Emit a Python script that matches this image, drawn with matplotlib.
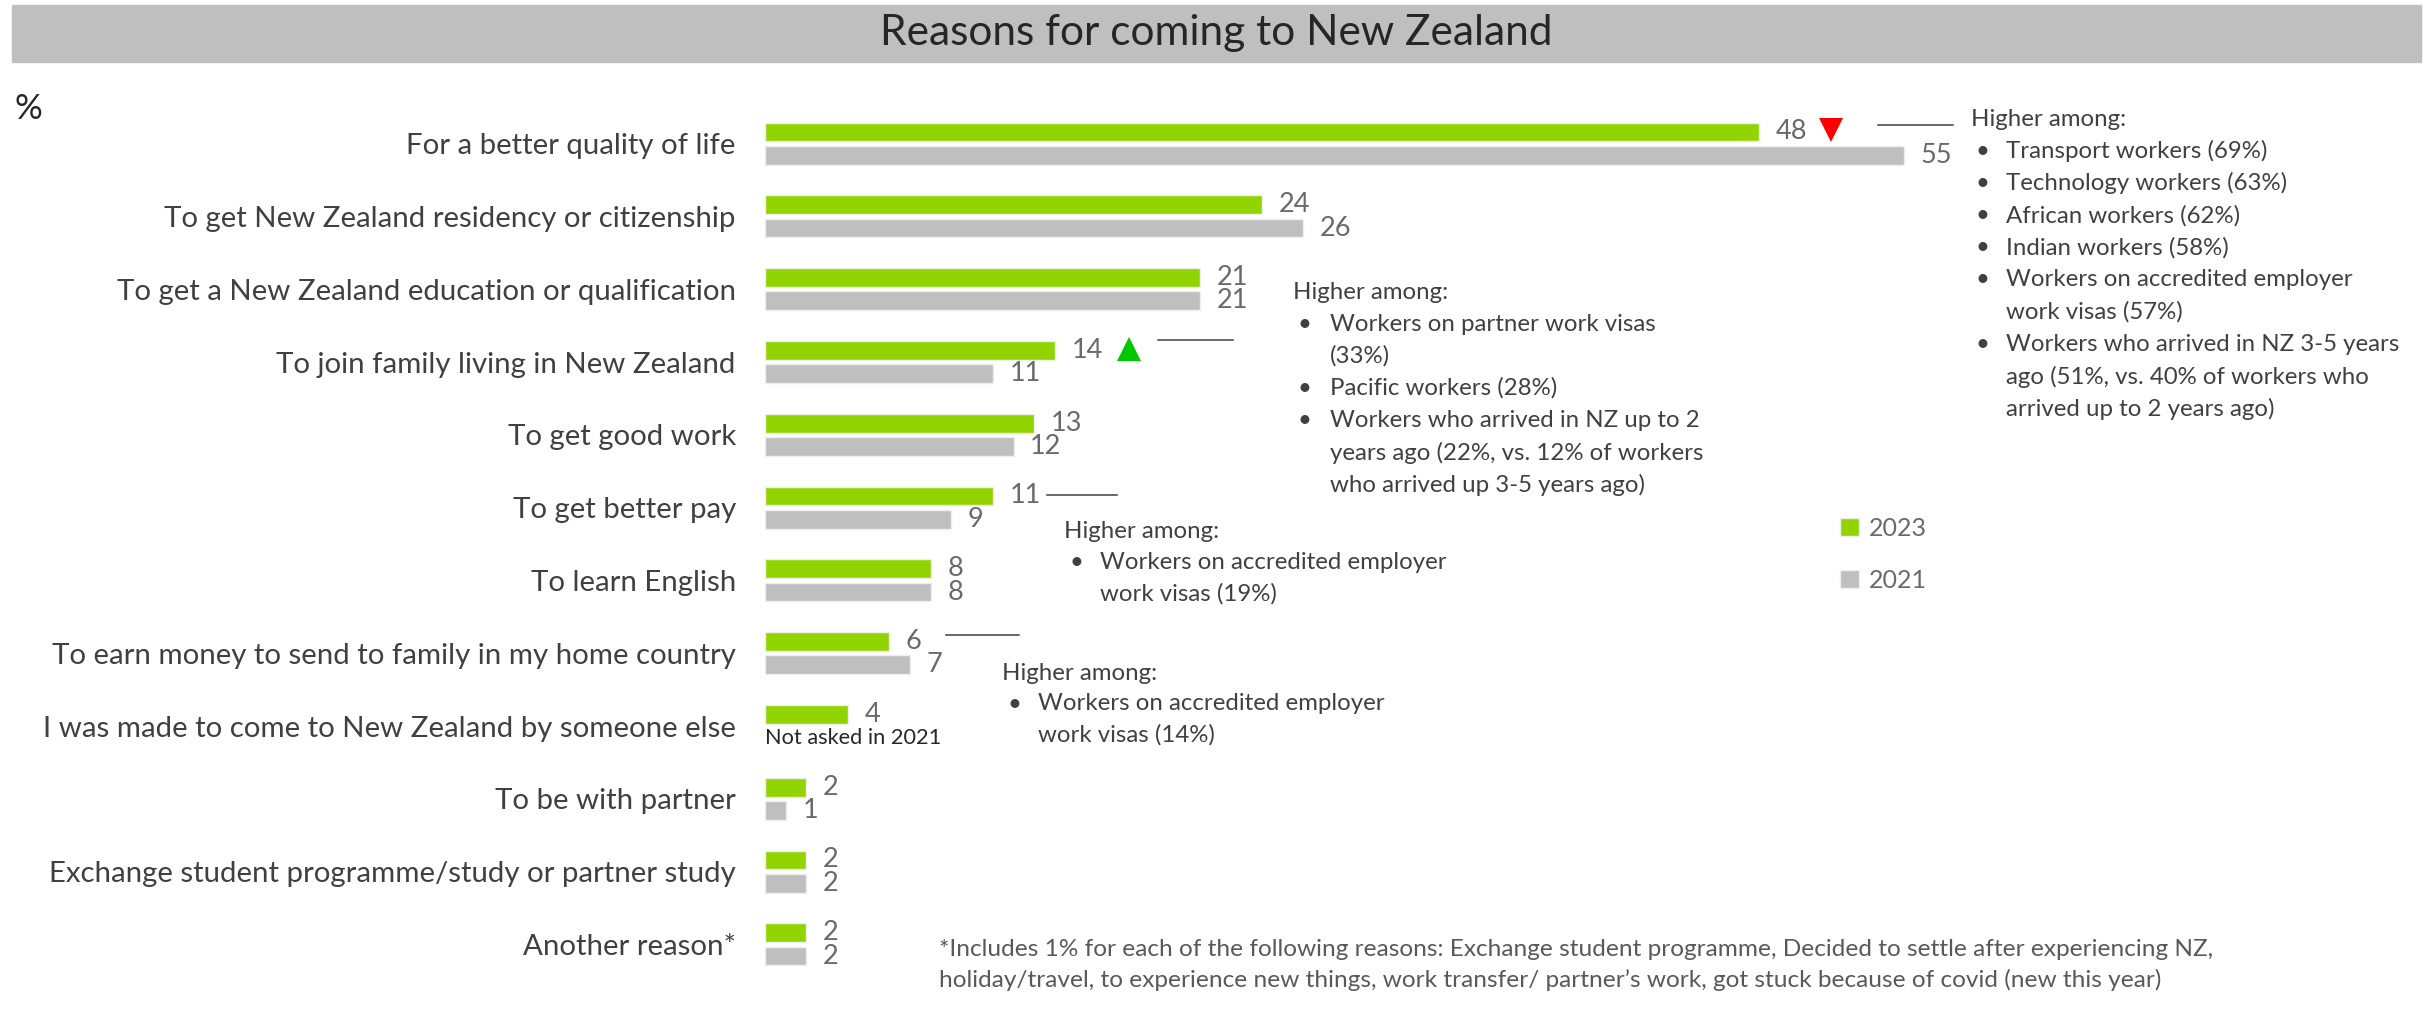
import numpy as np
import matplotlib.pyplot as plt
from matplotlib.patches import Rectangle
from matplotlib.lines import Line2D

plt.rcParams['font.family'] = ['Lato', 'DejaVu Sans']

# --- data ---
reasons = [
    "For a better quality of life",
    "To get New Zealand residency or citizenship",
    "To get a New Zealand education or qualification",
    "To join family living in New Zealand",
    "To get good work",
    "To get better pay",
    "To learn English",
    "To earn money to send to family in my home country",
    "I was made to come to New Zealand by someone else",
    "To be with partner",
    "Exchange student programme/study or partner study",
    "Another reason*",
]
pct_2023 = [48, 24, 21, 14, 13, 11, 8, 6, 4, 2, 2, 2]
pct_2021 = [55, 26, 21, 11, 12, 9, 8, 7, np.nan, 1, 2, 2]
years = ["2023", "2021"]
sig_down = [0]   # significantly lower than 2021
sig_up = [3]     # significantly higher than 2021

note_quality = ["Higher among:",
                "•Transport workers (69%)",
                "•Technology workers (63%)",
                "•African workers (62%)",
                "•Indian workers (58%)",
                "•Workers on accredited employer",
                "work visas (57%)",
                "•Workers who arrived in NZ 3-5 years",
                "ago (51%, vs. 40% of workers who",
                "arrived up to 2 years ago)"]
note_family = ["Higher among:",
               "•Workers on partner work visas",
               "(33%)",
               "•Pacific workers (28%)",
               "•Workers who arrived in NZ up to 2",
               "years ago (22%, vs. 12% of workers",
               "who arrived up 3-5 years ago)"]
note_pay = ["Higher among:",
            "•Workers on accredited employer",
            "work visas (19%)"]
note_money = ["Higher among:",
              "•Workers on accredited employer",
              "work visas (14%)"]
footnote = ("*Includes 1% for each of the following reasons: Exchange student programme, Decided to settle after experiencing NZ,\n"
            "holiday/travel, to experience new things, work transfer/ partner\u2019s work, got stuck because of covid (new this year)")

GREEN = "#92D400"
GREY = "#BFBFBF"
TXT = "#404040"
VAL = "#6A6A6A"
NOTE_FS = 17.3

W, H = 2433, 1009
fig = plt.figure(figsize=(W / 100, H / 100), dpi=100)


def fx(x):
    return x / W


def fy(y):
    return 1 - y / H


# bars axis: x=0 at 765px, 20.71 px per percent; rows 72.8px apart
x0, ppu = 765, 20.71
y0, rstep = 143.6, 72.8
ax = fig.add_axes([fx(x0), 0, 1 - fx(x0), 1])
ax.set_xlim(0, (W - x0) / ppu)
ax.set_ylim((H - y0) / rstep, -y0 / rstep)
for s in ax.spines.values():
    s.set_visible(False)
ax.set_xticks([])

rows = np.arange(len(reasons))
bh, off = 0.258, 0.16
b23 = ax.barh(rows - off, pct_2023, height=bh, color=GREEN, edgecolor="#EEEEEE", linewidth=1, label=years[0])
b21 = ax.barh(rows + off, pct_2021, height=bh, color=GREY, edgecolor="#EEEEEE", linewidth=1, label=years[1])

lab23 = [f"{v:g}" for v in pct_2023]
lab21 = ["" if np.isnan(v) else f"{v:g}" for v in pct_2021]
ax.bar_label(b23, labels=lab23, padding=12, fontsize=19.5, color=VAL)
ax.bar_label(b21, labels=lab21, padding=12, fontsize=19.5, color=VAL)

# missing 2021 value
for i, v in enumerate(pct_2021):
    if np.isnan(v):
        ax.text(0, rows[i] + off, "Not asked in 2021", fontsize=15.7, color="#262626", va="center", ha="left")

# significance markers
for i in sig_down:
    ax.plot(pct_2023[i] + 3.45, rows[i] - off - 0.02, marker="v", ms=17.5, color="#FF0000", mew=0)
for i in sig_up:
    ax.plot(pct_2023[i] + 3.6, rows[i] - off - 0.02, marker="^", ms=17.5, color="#00C800", mew=0)

ax.set_yticks(rows, labels=reasons)
ax.tick_params(axis="y", length=0, pad=21, labelsize=21.2, labelcolor=TXT)

# title band
fig.patches.append(Rectangle((fx(12), fy(62)), fx(2409), 57 / H, transform=fig.transFigure,
                             color=GREY, zorder=0))
fig.text(fx(1216), fy(33), "Reasons for coming to New Zealand", fontsize=30.5, color="#262626",
         ha="center", va="center")
fig.text(fx(14), fy(109), "%", fontsize=25, color="#262626", ha="left", va="center")


def note(lines, xh, yh, xb, xt, step=32.2):
    y = yh
    for ln in lines:
        if ln.startswith("•"):
            fig.text(fx(xb), fy(y), "•", fontsize=NOTE_FS, color=TXT, va="center", ha="left")
            fig.text(fx(xt), fy(y), ln[1:], fontsize=NOTE_FS, color=TXT, va="center", ha="left")
        elif ln.startswith("Higher"):
            fig.text(fx(xh), fy(y), ln, fontsize=NOTE_FS, color=TXT, va="center", ha="left")
        else:
            fig.text(fx(xt), fy(y), ln, fontsize=NOTE_FS, color=TXT, va="center", ha="left")
        y += step


def leader(xa, xb, y):
    fig.add_artist(Line2D([fx(xa), fx(xb)], [fy(y), fy(y)], color=TXT, lw=1.1))


note(note_quality, 1971, 119, 1975, 2006)
leader(1878, 1953, 125)
note(note_family, 1293, 292, 1297, 1330, step=32.1)
leader(1158, 1233, 340)
note(note_pay, 1064, 531, 1069, 1100, step=31.5)
leader(1047, 1117, 495)
note(note_money, 1002, 673, 1007, 1038, step=31)
leader(946, 1019, 635)

fig.text(fx(939), fy(965), footnote, fontsize=17.6, color="#595959", ha="left", va="center",
         linespacing=1.45)

fig.legend(handles=[b23, b21], loc="upper left", bbox_to_anchor=(fx(1840), fy(517)),
           frameon=False, fontsize=18, labelcolor=VAL, handlelength=0.75, handleheight=0.75,
           handletextpad=0.4, labelspacing=1.15, borderpad=0, borderaxespad=0)

fig.savefig("out.png", dpi=100)
